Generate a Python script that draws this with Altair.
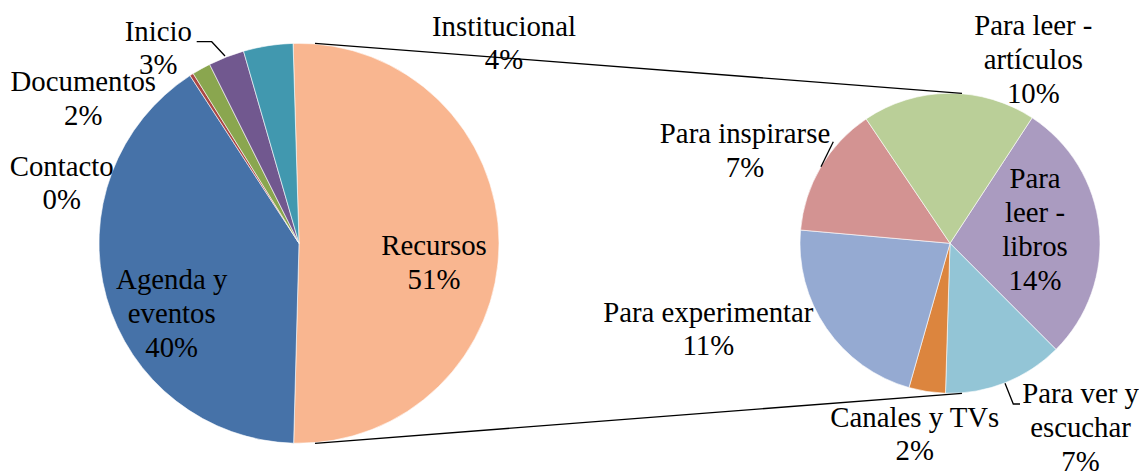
import math
import altair as alt
import pandas as pd

# ---------------- data ----------------
main_names = ["Recursos", "Agenda y eventos", "Contacto", "Documentos", "Inicio", "Institucional"]
main_values = [50.9, 40.4, 0.3, 1.5, 2.9, 4.0]
main_lines = [["Recursos"], ["Agenda y", "eventos"], ["Contacto"], ["Documentos"], ["Inicio"], ["Institucional"]]
main_pct = ["51%", "40%", "0%", "2%", "3%", "4%"]

sec_names = ["Para leer - libros", "Para ver y escuchar", "Canales y TVs",
             "Para experimentar", "Para inspirarse", "Para leer - artículos"]
sec_values = [14.4, 6.6, 2.0, 11.2, 7.2, 9.5]
sec_lines = [["Para", "leer -", "libros"], ["Para ver y", "escuchar"], ["Canales y TVs"],
             ["Para experimentar"], ["Para inspirarse"], ["Para leer -", "artículos"]]
sec_pct = ["14%", "7%", "2%", "11%", "7%", "10%"]

# ---------------- styles / layout ----------------
main_colors = ["#F9B690", "#4672A8", "#AA4744", "#8AA64F", "#71588F", "#4198AF"]
sec_colors = ["#AA9BC0", "#93C5D6", "#DC853E", "#95AAD2", "#D39392", "#BACF98"]

W, H = 1131, 465
MAIN_C, MAIN_R, MAIN_START = (291, 235.3), 200, 358.3
SEC_C, SEC_R, SEC_START = (942, 235.3), 150, 33.2
FONT = "Liberation Serif, Times New Roman, Times, serif"
FS = 28.8
LH = 33.8

# label anchor (center x, first baseline y) in chart pixels
main_label_pos = [(426, 247), (163.7, 281.3), (53.7, 167.7), (75.3, 83), (150.3, 32.7), (496, 27.7)]
sec_label_pos = [(1027, 180.3), (1072.5, 395.3), (906.8, 418.7), (700.3, 313.7), (737, 135.3), (1025.3, 27)]

# connector and leader polylines (chart pixels)
polylines = [
    [(307, 35.3), (954, 85.3)],
    [(307, 435.3), (954, 385.3)],
    [(188.7, 33.7), (203.7, 33.7), (217, 48)],
    [(825.3, 133.7), (813, 158.7)],
    [(997, 375.3), (1005.3, 396), (1012, 396)],
]


def arc_layer(names, values, colors, center, radius, start_deg):
    df = pd.DataFrame({"name": names, "value": values, "k": list(range(len(names)))})
    s = math.radians(start_deg)
    return alt.Chart(df).mark_arc(radius=radius, stroke="white", strokeWidth=0.6).encode(
        theta=alt.Theta("value:Q", stack=True, scale=alt.Scale(range=[s, s + 2 * math.pi])),
        order=alt.Order("k:Q"),
        color=alt.Color("name:N", scale=alt.Scale(domain=names, range=colors), legend=None),
        x=alt.value(center[0]),
        y=alt.value(center[1]),
    )


label_rows = []
for lines, pct, (x, y) in zip(main_lines + sec_lines, main_pct + sec_pct, main_label_pos + sec_label_pos):
    label_rows.append({"x": x, "y": y, "t": "\n".join(lines + [pct])})
labels_df = pd.DataFrame(label_rows)

line_rows = []
for i, pl in enumerate(polylines):
    for j, (x, y) in enumerate(pl):
        line_rows.append({"id": i, "k": j, "x": x, "y": y})
lines_df = pd.DataFrame(line_rows)

main_arc = arc_layer(main_names, main_values, main_colors, MAIN_C, MAIN_R, MAIN_START)
sec_arc = arc_layer(sec_names, sec_values, sec_colors, SEC_C, SEC_R, SEC_START)

connectors = alt.Chart(lines_df).mark_line(color="black", strokeWidth=1.3).encode(
    x=alt.X("x:Q", scale=None, axis=None),
    y=alt.Y("y:Q", scale=None, axis=None),
    detail="id:N",
    order="k:Q",
)

texts = alt.Chart(labels_df).mark_text(
    font=FONT, fontSize=FS, color="black", align="center", baseline="alphabetic",
    lineBreak="\n", lineHeight=LH,
).encode(
    x=alt.X("x:Q", scale=None, axis=None),
    y=alt.Y("y:Q", scale=None, axis=None),
    text="t:N",
)

chart = alt.layer(main_arc, sec_arc, connectors, texts).resolve_scale(
    theta="independent", color="independent"
).properties(
    width=W, height=H, padding=0, autosize=alt.AutoSizeParams(type="none")
).configure_view(stroke=None)

chart.save("out.html", embed_options={"renderer": "svg", "actions": False})
